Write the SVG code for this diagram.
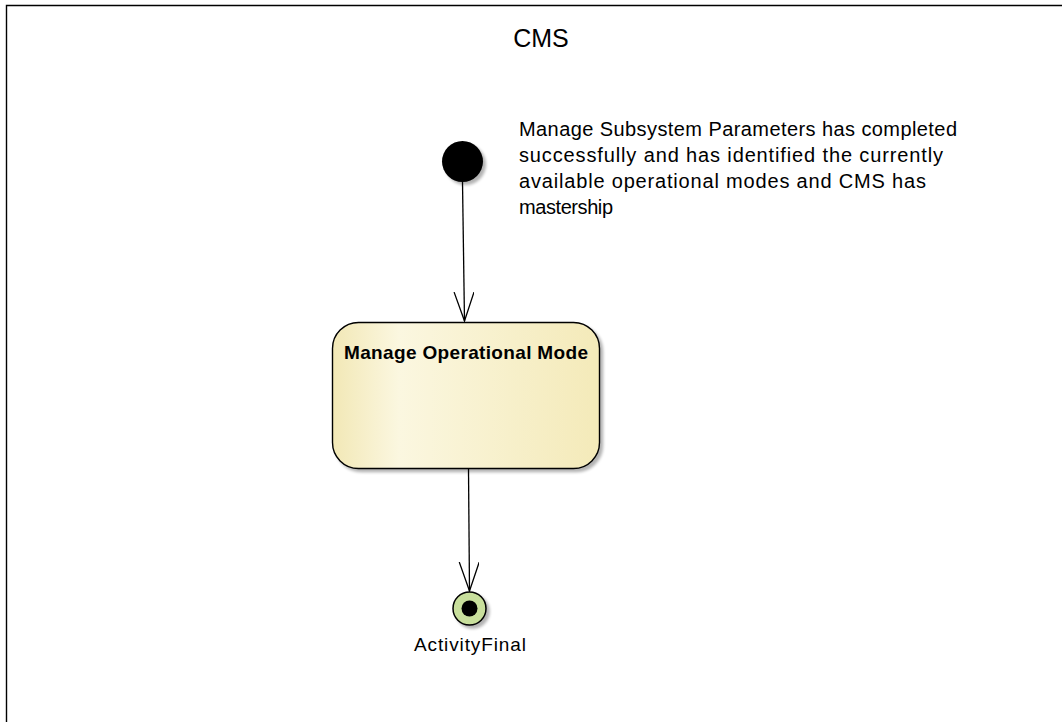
<svg xmlns="http://www.w3.org/2000/svg" width="1062" height="722" viewBox="0 0 1062 722">
  <style>
    .txt { font-family: "Liberation Sans", Arial, sans-serif; fill: #000; }
    .edge { stroke: #000; stroke-width: 1.3; fill: none; }
  </style>
  <defs>
    <linearGradient id="boxfill" x1="0" y1="0" x2="1" y2="0">
      <stop offset="0" stop-color="#f2e8b6"/>
      <stop offset="0.25" stop-color="#fbf7e0"/>
      <stop offset="1" stop-color="#f4eab9"/>
    </linearGradient>
    <filter id="shadow" x="-20%" y="-20%" width="150%" height="150%">
      <feGaussianBlur in="SourceAlpha" stdDeviation="1.5"/>
      <feOffset dx="3" dy="3" result="b"/>
      <feComponentTransfer><feFuncA type="linear" slope="0.3"/></feComponentTransfer>
      <feMerge><feMergeNode/><feMergeNode in="SourceGraphic"/></feMerge>
    </filter>
    <marker id="open" markerWidth="32" markerHeight="24" refX="29" refY="10" orient="auto" markerUnits="userSpaceOnUse">
      <path d="M0,0 L29,10 L0,20" fill="none" stroke="#000" stroke-width="1.3"/>
    </marker>
  </defs>

  <rect x="0" y="0" width="1062" height="722" fill="#fff"/>

  <g id="frame">
    <path d="M6.5,722 V5.5 H1062" fill="none" stroke="#000" stroke-width="1.4"/>
    <text class="txt" x="541" y="47" font-size="25" text-anchor="middle">CMS</text>
  </g>

  <g id="connectors">
    <path class="edge" d="M462.5,182 L464.5,321" marker-end="url(#open)"/>
    <path class="edge" d="M468.5,469 L469.5,591" marker-end="url(#open)"/>
  </g>

  <g id="initial">
    <circle cx="462.5" cy="161.5" r="20.5" fill="#000" filter="url(#shadow)"/>
  </g>

  <g id="note">
    <text class="txt" font-size="20">
      <tspan x="519" y="136" textLength="438" lengthAdjust="spacing">Manage Subsystem Parameters has completed</tspan>
      <tspan x="519" y="162" textLength="424" lengthAdjust="spacing">successfully and has identified the currently</tspan>
      <tspan x="519" y="188" textLength="407" lengthAdjust="spacing">available operational modes and CMS has</tspan>
      <tspan x="519" y="214" textLength="94" lengthAdjust="spacing">mastership</tspan>
    </text>
  </g>

  <g id="manage-operational-mode">
    <rect x="332.5" y="322.5" width="267" height="146" rx="26" ry="26" fill="url(#boxfill)" stroke="#000" stroke-width="1.4" filter="url(#shadow)"/>
    <text class="txt" x="344" y="359" font-size="19" font-weight="bold" textLength="244" lengthAdjust="spacing">Manage Operational Mode</text>
  </g>

  <g id="activity-final">
    <circle cx="469.5" cy="608.5" r="16.5" fill="#c8df9c" stroke="#000" stroke-width="1.5" filter="url(#shadow)"/>
    <circle cx="469.5" cy="608.5" r="8" fill="#000"/>
    <text class="txt" x="470" y="651" font-size="19" text-anchor="middle" textLength="112" lengthAdjust="spacing">ActivityFinal</text>
  </g>
</svg>
